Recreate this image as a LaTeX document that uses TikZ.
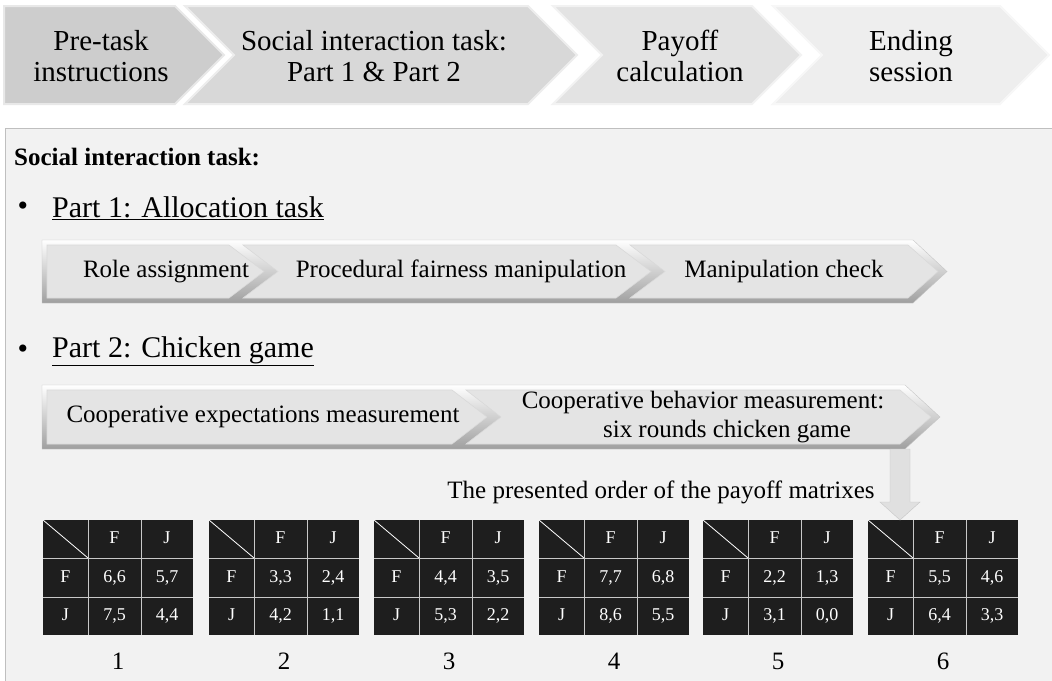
\documentclass[tikz,border=0pt]{standalone}
\usepackage{fontspec}
\setmainfont{Liberation Serif}
\usetikzlibrary{positioning,calc}

\definecolor{stageA}{HTML}{CDCDCD}
\definecolor{stageB}{HTML}{D8D8D8}
\definecolor{stageC}{HTML}{E3E3E3}
\definecolor{stageD}{HTML}{EEEEEE}
\definecolor{panelgray}{HTML}{F2F2F2}
\definecolor{panelline}{HTML}{BFBFBF}
\definecolor{facegray}{HTML}{E4E4E4}
\definecolor{cellblack}{HTML}{1E1E1E}
\definecolor{cellline}{HTML}{C8C8C8}
\definecolor{arrowgray}{HTML}{E0E0E0}

\begin{document}
\begin{tikzpicture}[x=1pt,y=-1pt]

\tikzset{
	stage/.style={
		fill=#1,
		draw=#1!45!white,
		line width=2pt
	}
}

\tikzset{
	stagetext/.style={
		align=center,
		inner sep=0pt,
		font=\fontsize{29}{31}\selectfont
	}
}

\tikzset{
	barbevel/.style={
		top color=white,
		bottom color=gray!75,
		draw=gray!45
	},
	barface/.style={
		fill=facegray,
		draw=white!70!gray,
		line width=0.6pt
	},
	bartext/.style={
		inner sep=0pt,
		align=center,
		font=\fontsize{25}{29}\selectfont
	}
}

\tikzset{
	payoffbox/.style={
		rectangle,
		fill=cellblack,
		inner sep=0pt,
		minimum width=150pt,minimum height=115pt,
		anchor=north west
	},
	cell/.style={
		inner sep=0pt,
		text=white,
		text height=12pt,
		text depth=3pt,
		font=\fontsize{18}{20}\selectfont
	},
	roundlabel/.style={
		inner sep=0pt,
		text height=17pt,
		text depth=0pt,
		font=\fontsize{25}{28}\selectfont
	}
}

\def\matrixtop{520}

% one payoff matrix: name, left x, FF, FJ, JF, JJ, number
\def\payoff#1#2#3#4#5#6#7{
	\node[payoffbox] (round#1) at (#2,\matrixtop) {};
	\begin{scope}[shift={(round#1.north west)}]
		\draw[cellline,line width=1pt] (45,0) -- (45,115) (98,0) -- (98,115)
			(0,38) -- (150,38) (0,77) -- (150,77);
		\draw[white,line width=0.8pt] (0,0) -- (45,38);
		\node[cell] (round#1-f) at (71.5,19) {F};
		\node[cell] (round#1-j) at (124,19) {J};
		\node[cell] (round#1-rf) at (22.5,57.5) {F};
		\node[cell] (round#1-rj) at (22.5,96) {J};
		\node[cell] (round#1-ff) at (71.5,57.5) {#3};
		\node[cell] (round#1-fj) at (124,57.5) {#4};
		\node[cell] (round#1-jf) at (71.5,96) {#5};
		\node[cell] (round#1-jj) at (124,96) {#6};
	\end{scope}
	\node[roundlabel, below=17pt of round#1] (label#1) {#7};
}

\useasboundingbox (0,0) rectangle (1052,680);
\fill[white] (0,0) rectangle (1052,680);

% stages of the session
\draw[stage=stageA] (4,6) -- (175,6) -- (224,55) -- (175,104) -- (4,104) -- cycle;
\draw[stage=stageB] (185,6) -- (528,6) -- (577,55) -- (528,104) -- (185,104) -- (234,55) -- cycle;
\draw[stage=stageC] (553,6) -- (752,6) -- (801,55) -- (752,104) -- (553,104) -- (602,55) -- cycle;
\draw[stage=stageD] (773,6) -- (1000,6) -- (1049,55) -- (1000,104) -- (773,104) -- (822,55) -- cycle;

\node[stagetext] (pretask) at (101,56) {Pre-task\\instructions};
\node[stagetext] (social) at (374,56) {Social interaction task:\\Part 1 \& Part 2};
\node[stagetext] (payoff) at (680,56) {Payoff\\calculation};
\node[stagetext] (ending) at (911,56) {Ending\\session};

% panel
\draw[panelline,fill=panelgray,line width=1pt] (5,128) rectangle (1070,700);

\node[anchor=west, inner sep=0pt, font=\bfseries\fontsize{25}{28}\selectfont] (title) at (14,157) {Social interaction task:};

% part 1
\node[inner sep=0pt, font=\fontsize{30}{32}\selectfont] (bullet1) at (23,209) {•};
\node[anchor=west, inner sep=0pt, font=\fontsize{30}{32}\selectfont] (part1) at (52,208) {\underline{Part 1: Allocation task}};

\draw[barbevel] (42,240) -- (913,240) -- (947,271.5) -- (913,303) -- (42,303) -- cycle;
\draw[barface] (47,245) -- (229,245) -- (264,271.5) -- (229,298) -- (47,298) -- cycle;
\draw[barface] (243,245) -- (616,245) -- (651,271.5) -- (616,298) -- (243,298) -- (278,271.5) -- cycle;
\draw[barface] (630,245) -- (908,245) -- (938,271.5) -- (908,298) -- (630,298) -- (665,271.5) -- cycle;

\node[bartext] (role) at (166,271.5) {Role assignment};
\node[bartext] (fairness) at (461,271.5) {Procedural fairness manipulation};
\node[bartext] (check) at (784,271.5) {Manipulation check};

% part 2
\node[inner sep=0pt, font=\fontsize{30}{32}\selectfont] (bullet2) at (23,352) {•};
\node[anchor=west, inner sep=0pt, font=\fontsize{30}{32}\selectfont] (part2) at (52,351) {\underline{Part 2: Chicken game}};

\draw[barbevel] (42,385) -- (905,385) -- (940,417) -- (905,449) -- (42,449) -- cycle;
\draw[barface] (47,390) -- (452,390) -- (487,417) -- (452,444) -- (47,444) -- cycle;
\draw[barface] (466,390) -- (900,390) -- (931,417) -- (900,444) -- (466,444) -- (501,417) -- cycle;

\node[bartext] (expect) at (263,417) {Cooperative expectations measurement};
\node[bartext] (behavior) at (703,417) {Cooperative behavior measurement:\\\hspace*{48pt}six rounds chicken game};

\node[inner sep=0pt, font=\fontsize{25}{28}\selectfont] (order) at (661,492) {The presented order of the payoff matrixes};

% payoff matrices
\payoff{1}{43}{6,6}{5,7}{7,5}{4,4}{1}
\payoff{2}{209}{3,3}{2,4}{4,2}{1,1}{2}
\payoff{3}{374}{4,4}{3,5}{5,3}{2,2}{3}
\payoff{4}{539}{7,7}{6,8}{8,6}{5,5}{4}
\payoff{5}{703}{2,2}{1,3}{3,1}{0,0}{5}
\payoff{6}{868}{5,5}{4,6}{6,4}{3,3}{6}

% arrow to the first shown matrix
\coordinate (arrowtop) at (900,449);
\coordinate (arrowend) at ($(round6.north west)+(32,0)$);
\draw[fill=arrowgray,draw=gray!45] ($(arrowtop)+(-10,0)$) -- ($(arrowtop)+(10,0)$)
	-- ($(arrowend)+(10,-18)$) -- ($(arrowend)+(20,-18)$) -- (arrowend)
	-- ($(arrowend)+(-20,-18)$) -- ($(arrowend)+(-10,-18)$) -- cycle;

\end{tikzpicture}
\end{document}
